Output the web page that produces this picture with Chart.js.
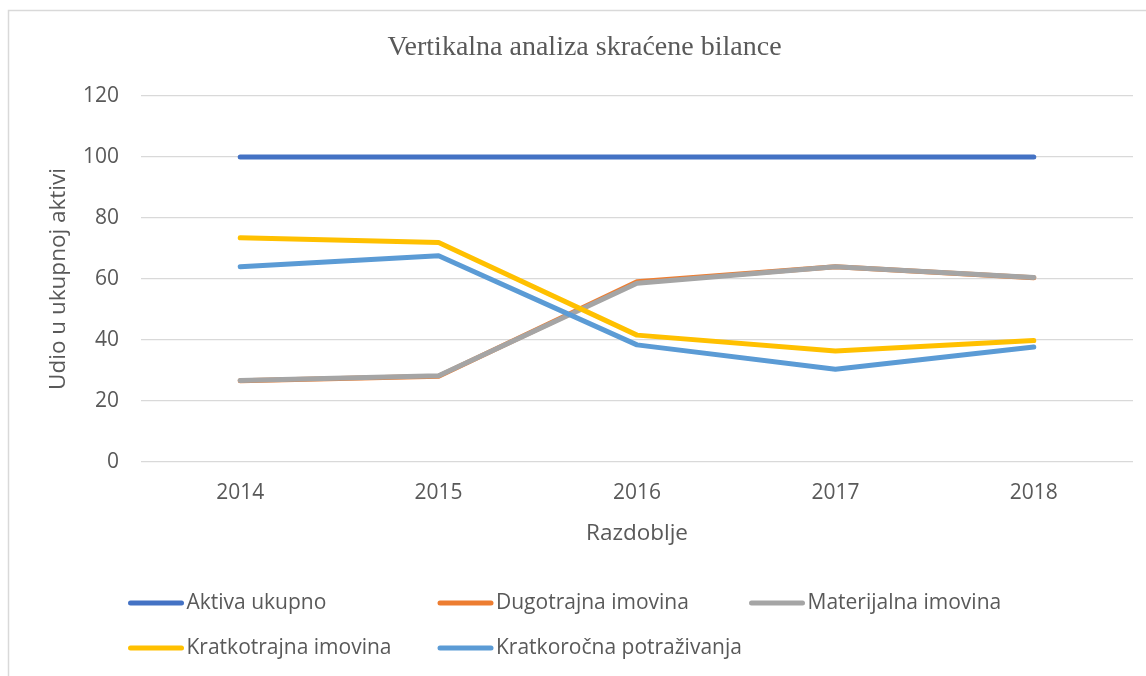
<!DOCTYPE html>
<html>
<head>
<meta charset="utf-8">
<script src="https://cdn.jsdelivr.net/npm/chart.js@4.4.1/dist/chart.umd.min.js"></script>
<style>
  html, body { margin: 0; padding: 0; background: #ffffff; }
  #wrap { position: relative; width: 1146px; height: 676px; }
  canvas { display: block; }
</style>
</head>
<body>
<div id="wrap"><canvas id="c" width="1146" height="676"></canvas></div>
<script>
// ---- data ----
const categories = ["2014", "2015", "2016", "2017", "2018"];
const aktivaUkupno = [100, 100, 100, 100, 100];
const dugotrajnaImovina = [26.6, 28.1, 59.1, 64.0, 60.4];
const materijalnaImovina = [26.7, 28.3, 58.6, 64.0, 60.5];
const kratkotrajnaImovina = [73.5, 72.0, 41.6, 36.4, 39.8];
const kratkorocnaPotrazivanja = [64.0, 67.6, 38.4, 30.4, 37.7];
const yTicks = [0, 20, 40, 60, 80, 100, 120];

const seriesNames = ["Aktiva ukupno", "Dugotrajna imovina", "Materijalna imovina", "Kratkotrajna imovina", "Kratkoročna potraživanja"];
const seriesValues = [aktivaUkupno, dugotrajnaImovina, materijalnaImovina, kratkotrajnaImovina, kratkorocnaPotrazivanja];
const seriesColors = ["#4472C4", "#ED7D31", "#A5A5A5", "#FFC000", "#5B9BD5"];

const TEXT = "#595959";
const SANS = "'Open Sans', 'Noto Sans', sans-serif";

const datasets = seriesNames.map((name, i) => ({
  label: name,
  data: seriesValues[i],
  borderColor: seriesColors[i],
  backgroundColor: seriesColors[i],
  borderWidth: 5,
  pointRadius: 0,
  pointHoverRadius: 0,
  tension: 0,
  fill: false,
  borderCapStyle: "round",
  borderJoinStyle: "round",
  order: seriesNames.length - i
}));

const framePlugin = {
  id: "frame",
  beforeDraw(chart) {
    const ctx = chart.ctx;
    ctx.save();
    ctx.fillStyle = "#ffffff";
    ctx.fillRect(0, 0, chart.width, chart.height);
    ctx.strokeStyle = "#d9d9d9";
    ctx.lineWidth = 1.5;
    ctx.beginPath();
    ctx.moveTo(8.5, chart.height + 5);
    ctx.lineTo(8.5, 10.5);
    ctx.lineTo(chart.width + 5, 10.5);
    ctx.stroke();
    ctx.restore();
  }
};

const legendPlugin = {
  id: "gridLegend",
  afterDraw(chart) {
    const ctx = chart.ctx;
    const cols = [130.5, 440, 751.5];
    const rows = [603, 648];
    const perRow = 3;
    ctx.save();
    ctx.font = "21px " + SANS;
    ctx.textBaseline = "middle";
    ctx.textAlign = "left";
    chart.data.datasets.forEach((ds, i) => {
      const x = cols[i % perRow];
      const y = rows[Math.floor(i / perRow)];
      ctx.strokeStyle = ds.borderColor;
      ctx.lineWidth = 5;
      ctx.lineCap = "round";
      ctx.beginPath();
      ctx.moveTo(x, y);
      ctx.lineTo(x + 51, y);
      ctx.stroke();
      ctx.fillStyle = TEXT;
      ctx.fillText(ds.label, x + 56, y);
    });
    ctx.restore();
  }
};

new Chart(document.getElementById("c"), {
  type: "line",
  data: { labels: categories, datasets: datasets },
  plugins: [framePlugin, legendPlugin],
  options: {
    responsive: false,
    animation: false,
    devicePixelRatio: 1,
    layout: { padding: { left: 36, right: 13, top: 0, bottom: 124 } },
    plugins: {
      legend: { display: false },
      tooltip: { enabled: false },
      title: {
        display: true,
        text: "Vertikalna analiza skraćene bilance",
        color: TEXT,
        font: { family: "'Liberation Serif', 'Times New Roman', serif", size: 28, weight: "normal" },
        padding: { top: 31, bottom: 31.4 }
      }
    },
    scales: {
      x: {
        offset: true,
        grid: { display: false, drawTicks: false },
        border: { display: false },
        ticks: { color: TEXT, font: { family: SANS, size: 21 }, padding: 18, maxRotation: 0 },
        title: {
          display: true,
          text: "Razdoblje",
          color: TEXT,
          font: { family: SANS, size: 22.5 },
          padding: { top: 0, bottom: 5 }
        },
        afterFit(scale) { scale.height = 90; }
      },
      y: {
        min: 0,
        max: 120,
        afterBuildTicks(scale) { scale.ticks = yTicks.map(v => ({ value: v })); },
        grid: { color: "#d9d9d9", lineWidth: 1.3, drawTicks: false },
        border: { display: false },
        ticks: { color: TEXT, font: { family: SANS, size: 21 }, padding: 22 },
        title: {
          display: true,
          text: "Udio u ukupnoj aktivi",
          color: TEXT,
          font: { family: SANS, size: 22.5 },
          padding: { top: 9, bottom: 0 }
        },
        afterFit(scale) { scale.width = 105; }
      }
    }
  }
});
</script>
</body>
</html>
